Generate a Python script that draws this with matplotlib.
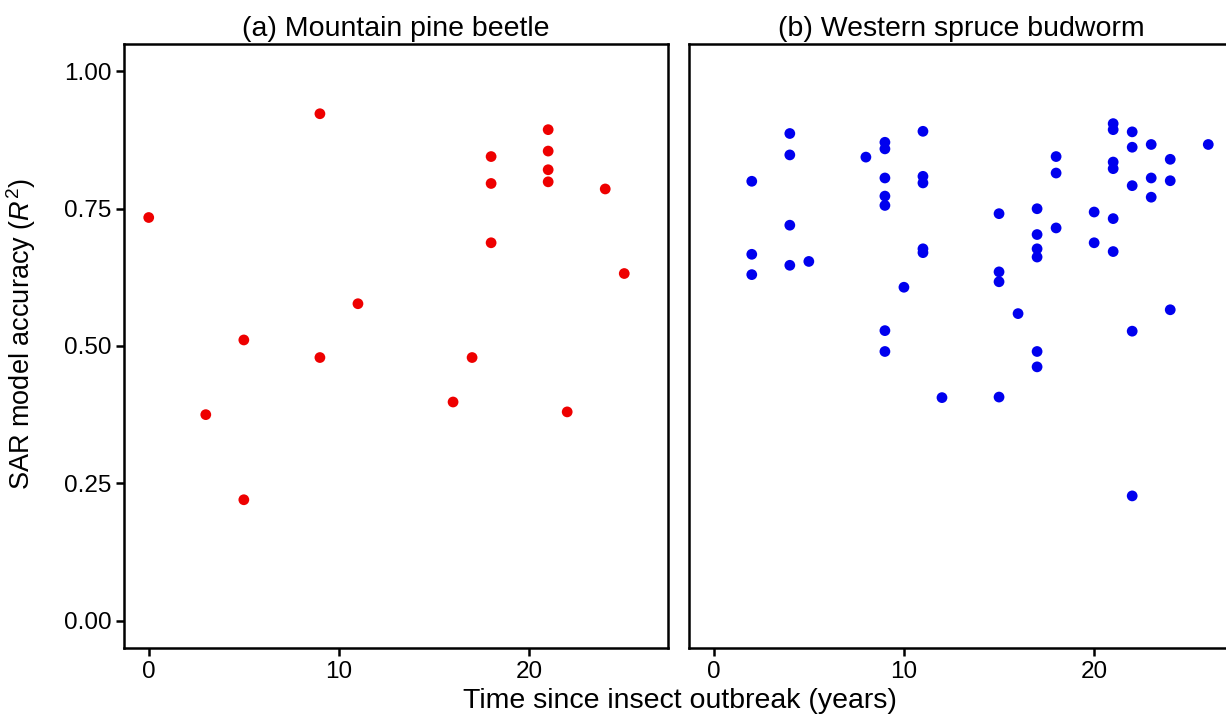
import numpy as np
import matplotlib
matplotlib.use("Agg")
import matplotlib.pyplot as plt

plt.rcParams['font.family'] = ['Liberation Sans', 'DejaVu Sans']
plt.rcParams['mathtext.fontset'] = 'custom'
plt.rcParams['mathtext.rm'] = 'Liberation Sans'
plt.rcParams['mathtext.it'] = 'Liberation Sans:italic'

# (a) Mountain pine beetle
mpb_years = [0, 3, 5, 5, 9, 9, 11, 16, 17, 18, 18, 18, 21, 21, 21, 21, 22, 24, 25]
mpb_r2 = [0.734, 0.375, 0.511, 0.220, 0.923, 0.479, 0.577, 0.398, 0.479,
          0.845, 0.796, 0.688, 0.894, 0.855, 0.821, 0.799, 0.380, 0.786, 0.632]

# (b) Western spruce budworm
wsb_years = [2, 2, 2,
             4, 4, 4, 4,
             5, 8,
             9, 9, 9, 9, 9, 9, 9,
             10,
             11, 11, 11, 11, 11,
             12,
             15, 15, 15, 15,
             16,
             17, 17, 17, 17, 17, 17,
             18, 18, 18,
             20, 20,
             21, 21, 21, 21, 21, 21,
             22, 22, 22, 22, 22,
             23, 23, 23,
             24, 24, 24,
             26]
wsb_r2 = [0.800, 0.667, 0.630,
          0.887, 0.848, 0.720, 0.647,
          0.654, 0.844,
          0.871, 0.859, 0.806, 0.773, 0.756, 0.528, 0.490,
          0.607,
          0.891, 0.809, 0.797, 0.677, 0.670,
          0.406,
          0.741, 0.635, 0.617, 0.407,
          0.559,
          0.750, 0.703, 0.677, 0.662, 0.490, 0.462,
          0.845, 0.815, 0.715,
          0.744, 0.688,
          0.905, 0.894, 0.835, 0.823, 0.732, 0.672,
          0.890, 0.862, 0.792, 0.527, 0.227,
          0.867, 0.806, 0.771,
          0.840, 0.801, 0.566,
          0.867]

titles = ["(a) Mountain pine beetle", "(b) Western spruce budworm"]

W, H = 1226, 723
fig = plt.figure(figsize=(W / 100, H / 100), dpi=100)
pw = 544 / W
ph = 604 / H
bot = (H - 648) / H
ax1 = fig.add_axes([124 / W, bot, pw, ph])
ax2 = fig.add_axes([689 / W, bot, pw, ph])

ax1.scatter(mpb_years, mpb_r2, s=60, color='#ee0000', edgecolors='none')
ax2.scatter(wsb_years, wsb_r2, s=60, color='#0000ee', edgecolors='none')

for ax, t in zip([ax1, ax2], titles):
    ax.set_xlim(-1.3, 27.3)
    ax.set_ylim(-0.05, 1.05)
    ax.set_xticks([0, 10, 20])
    ax.set_yticks([0, 0.25, 0.5, 0.75, 1.0])
    ax.set_yticklabels(["0.00", "0.25", "0.50", "0.75", "1.00"])
    for sp in ax.spines.values():
        sp.set_linewidth(1.8)
        sp.set_color('black')
    ax.tick_params(labelsize=17.5, length=6, width=1.8, colors='black', pad=3)
    ax.set_title(t, fontsize=20.5, pad=6)

ax2.tick_params(axis='y', left=False, labelleft=False)

ax1.set_ylabel("SAR model accuracy ($R^2$)", fontsize=19.5)
ax1.yaxis.set_label_coords(-0.158, 0.52)
fig.text(0.555, 0.012, "Time since insect outbreak (years)", fontsize=20.5,
         ha='center', va='bottom')

fig.savefig("out.png", dpi=100)
